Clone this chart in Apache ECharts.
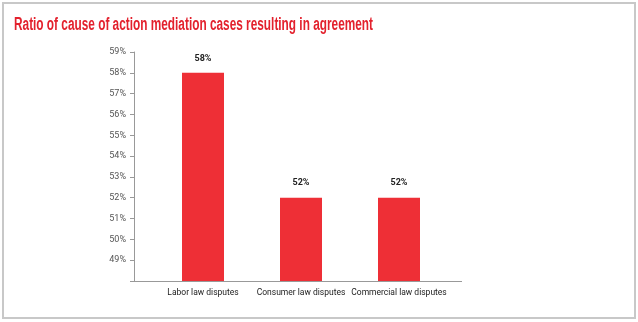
<!DOCTYPE html>
<html>
<head>
<meta charset="utf-8">
<script src="https://cdn.jsdelivr.net/npm/echarts@6/dist/echarts.min.js"></script>
<style>
  html, body { margin: 0; padding: 0; background: #fff; }
  #chart { width: 638px; height: 322px; }
</style>
</head>
<body>
<div id="chart"></div>
<script>
// Mediation outcomes by cause of action
const categories = ['Labor law disputes', 'Consumer law disputes', 'Commercial law disputes'];
const agreementRatio = [58, 52, 52];
const yMin = 48;
const yMax = 59;

const titleText = 'Ratio of cause of action mediation cases resulting in agreement';
const FONT = 'Roboto, "Liberation Sans", sans-serif';
const TITLE_FONT = '"Liberation Sans", Arial, sans-serif';
const TITLE_SIZE = 18;
const TITLE_WIDTH = 359;

// condense the headline to its intended width
const ctx = document.createElement('canvas').getContext('2d');
ctx.font = 'bold ' + TITLE_SIZE + 'px ' + TITLE_FONT;
const titleScale = TITLE_WIDTH / ctx.measureText(titleText).width;

const chart = echarts.init(document.getElementById('chart'), null, { renderer: 'canvas' });

chart.setOption({
  backgroundColor: '#fff',
  animation: false,
  grid: { left: 154, right: 190, top: 52, bottom: 41, containLabel: false },
  xAxis: {
    type: 'category',
    data: categories,
    axisLine: { show: false },
    axisTick: { show: false },
    axisLabel: { interval: 0, margin: 7, fontFamily: FONT, fontSize: 8.5, color: '#222' }
  },
  yAxis: {
    type: 'value',
    min: yMin,
    max: yMax,
    interval: 1,
    offset: 20,
    splitLine: { show: false },
    axisLine: { show: true, lineStyle: { color: '#999', width: 1 } },
    axisTick: { show: true, length: 4, lineStyle: { color: '#999' } },
    axisLabel: {
      margin: 8,
      fontFamily: FONT,
      fontSize: 9,
      color: '#555',
      formatter: v => (v === yMin ? '' : v + '%')
    }
  },
  series: [{
    type: 'bar',
    data: agreementRatio,
    barWidth: 42,
    itemStyle: { color: '#ee2f36' },
    label: {
      show: true,
      position: 'top',
      distance: 10,
      formatter: p => p.value + '%',
      fontFamily: FONT,
      fontWeight: 'bold',
      fontSize: 9,
      color: '#222'
    }
  }],
  graphic: [
    {
      type: 'rect',
      shape: { x: 3, y: 3, width: 632, height: 315 },
      style: { fill: 'none', stroke: '#c8c8c8', lineWidth: 2 },
      silent: true
    },
    {
      type: 'line',
      shape: { x1: 134, y1: 281.5, x2: 462, y2: 281.5 },
      style: { stroke: '#999', lineWidth: 1 },
      silent: true
    },
    {
      type: 'text',
      x: 14,
      y: 16,
      scaleX: titleScale,
      style: {
        text: titleText,
        fill: '#e3212d',
        font: 'bold ' + TITLE_SIZE + 'px ' + TITLE_FONT,
        verticalAlign: 'top'
      },
      silent: true
    }
  ]
});
</script>
</body>
</html>
